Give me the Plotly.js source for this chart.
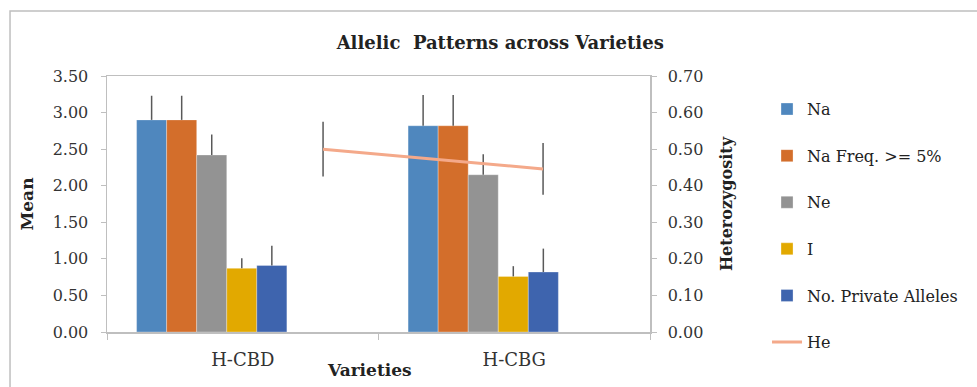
<!DOCTYPE html>
<html>
<head>
<meta charset="utf-8">
<script src="https://cdn.plot.ly/plotly-3.0.1.min.js"></script>
<style>html,body{margin:0;padding:0;background:#fff;}#chart{width:977px;height:387px;}</style>
</head>
<body>
<div id="chart"></div>
<script>
// ---- data ----
const varieties = ['H-CBD', 'H-CBG'];
const seriesNames = ['Na', 'Na Freq. >= 5%', 'Ne', 'I', 'No. Private Alleles'];
const na = [2.90, 2.82];
const naErr = [0.33, 0.42];
const naFreq = [2.90, 2.82];
const naFreqErr = [0.33, 0.42];
const ne = [2.42, 2.15];
const neErr = [0.28, 0.28];
const iVals = [0.87, 0.76];
const iErr = [0.14, 0.14];
const privAlleles = [0.91, 0.82];
const privErr = [0.27, 0.32];
const he = [0.50, 0.446];
const heErr = [0.075, 0.071];
const yLeftTicks = [0, 0.5, 1, 1.5, 2, 2.5, 3, 3.5];
const yRightTicks = [0, 0.1, 0.2, 0.3, 0.4, 0.5, 0.6, 0.7];

// ---- styles ----
const colors = ['#4F87BE', '#D36E2B', '#939393', '#E2A900', '#3E64AE'];
const heColor = '#F4A98A';
const errColor = '#595959';
const FONT = 'DejaVu Serif';
const axisGray = '#BFBFBF';

const barVals = [na, naFreq, ne, iVals, privAlleles];
const barErrs = [naErr, naFreqErr, neErr, iErr, privErr];
const barW = 0.1107;
const firstOffset = -0.391;

const traces = barVals.map((vals, k) => ({
  type: 'bar',
  name: seriesNames[k],
  x: varieties,
  y: vals,
  width: barW,
  offset: firstOffset + k * barW,
  marker: {color: colors[k], line: {color: 'rgba(255,255,255,0.6)', width: 0.5}},
  error_y: {type: 'data', symmetric: false, array: barErrs[k], arrayminus: [0, 0],
            color: errColor, thickness: 1.5, width: 0},
  legendgroup: 'g' + k,
  hoverinfo: 'y'
}));

traces.push({
  type: 'scatter',
  mode: 'lines',
  name: 'He',
  x: varieties,
  y: he,
  xaxis: 'x2',
  yaxis: 'y2',
  line: {color: heColor, width: 3},
  error_y: {type: 'data', array: heErr, color: errColor, thickness: 1.5, width: 0},
  legendgroup: 'g5'
});

const layout = {
  width: 977,
  height: 387,
  margin: {l: 107, r: 327, t: 76, b: 55},
  paper_bgcolor: '#fff',
  plot_bgcolor: '#fff',
  font: {family: FONT, size: 16, color: '#333'},
  barmode: 'overlay',
  showlegend: true,
  title: {
    text: 'Allelic\u00a0 Patterns across Varieties',
    font: {family: FONT, size: 18, color: '#222', weight: 'bold'},
    x: 0.512, xanchor: 'center', y: 0.89, yanchor: 'middle'
  },
  xaxis: {
    type: 'category',
    categoryorder: 'array',
    categoryarray: varieties,
    range: [-0.5, 1.5],
    tickson: 'boundaries',
    ticks: 'outside',
    ticklen: 6,
    tickcolor: axisGray,
    ticklabelstandoff: 11,
    showline: true,
    linecolor: axisGray,
    linewidth: 1.5,
    mirror: true,
    showgrid: false,
    zeroline: false,
    tickfont: {family: FONT, size: 18, color: '#333'}
  },
  xaxis2: {
    type: 'category',
    categoryorder: 'array',
    categoryarray: varieties,
    overlaying: 'x',
    range: [-0.982, 1.486],
    visible: false
  },
  yaxis: {
    range: [0, 3.5],
    tickvals: yLeftTicks,
    tickformat: '.2f',
    ticks: 'outside',
    ticklen: 5,
    tickcolor: axisGray,
    ticklabelstandoff: 9,
    showline: true,
    linecolor: axisGray,
    linewidth: 1.5,
    showgrid: false,
    zeroline: false,
    tickfont: {family: FONT, size: 16, color: '#333'},
    title: {text: '<b>Mean</b>', font: {family: FONT, size: 17, color: '#222'}, standoff: 14}
  },
  yaxis2: {
    range: [0, 0.7],
    tickvals: yRightTicks,
    tickformat: '.2f',
    overlaying: 'y',
    side: 'right',
    anchor: 'x2',
    ticks: 'outside',
    ticklen: 5,
    tickcolor: axisGray,
    ticklabelstandoff: 8,
    showline: true,
    linecolor: axisGray,
    linewidth: 1.5,
    showgrid: false,
    zeroline: false,
    tickfont: {family: FONT, size: 16, color: '#333'},
    title: {text: '<b>Heterozygosity</b>', font: {family: FONT, size: 16, color: '#222'}, standoff: 18}
  },
  legend: {
    x: 1.2155, xanchor: 'left',
    y: 0.937, yanchor: 'top',
    traceorder: 'grouped',
    tracegroupgap: 22.8,
    maxheight: 600,
    font: {family: FONT, size: 16, color: '#222'},
    bgcolor: 'rgba(0,0,0,0)'
  },
  annotations: [{
    text: '<b>Varieties</b>', xref: 'paper', yref: 'paper',
    x: 0.4843, y: -0.148, xanchor: 'center', yanchor: 'middle', showarrow: false,
    font: {family: FONT, size: 17, color: '#222'}
  }],
  shapes: [{
    type: 'rect', xref: 'paper', yref: 'paper', layer: 'below',
    x0: -0.1786, x1: 1.7, y0: -0.35, y1: 1.2539,
    line: {color: axisGray, width: 1.5}, fillcolor: 'rgba(0,0,0,0)'
  }]
};

Plotly.newPlot('chart', traces, layout, {displayModeBar: false, staticPlot: true});
</script>
</body>
</html>
